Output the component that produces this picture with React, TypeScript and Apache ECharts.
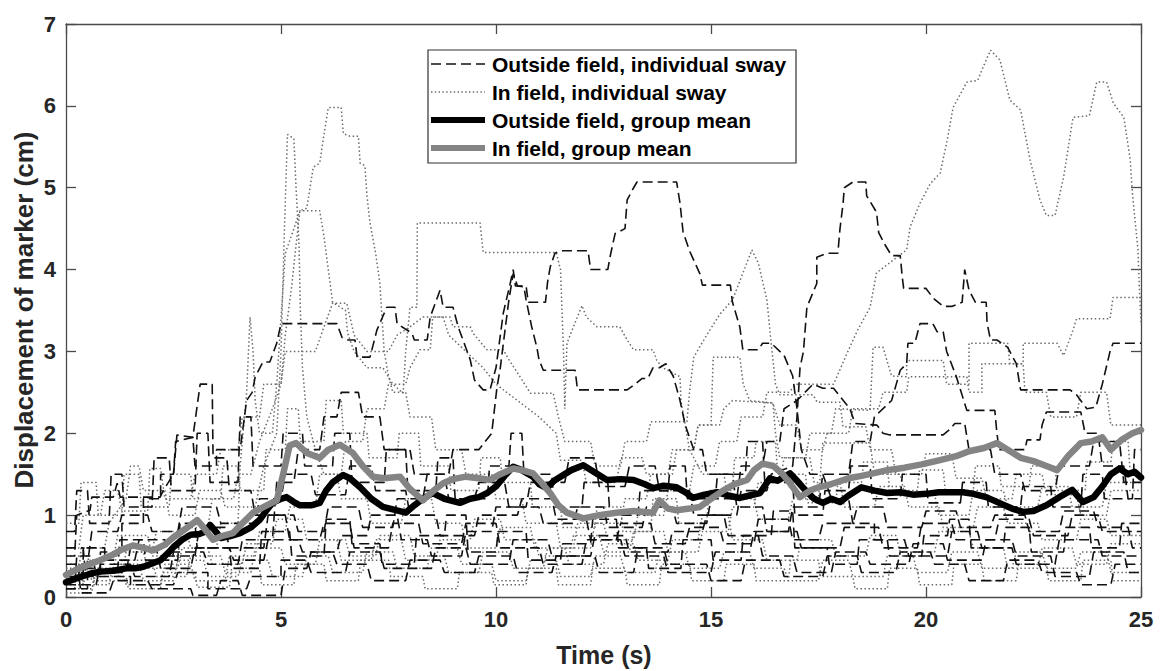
import React, { useEffect, useRef } from "react";
import * as echarts from "echarts";

type P = [number, number];

// Axis settings
const X_MIN = 0, X_MAX = 25, X_STEP = 5;
const Y_MIN = 0, Y_MAX = 7, Y_STEP = 1;
const X_TITLE = "Time (s)";
const Y_TITLE = "Displacement of marker (cm)";
const LEGEND_LABELS = [
  "Outside field, individual sway",
  "In field, individual sway",
  "Outside field, group mean",
  "In field, group mean",
];

// Group means
const OUT_MEAN: P[] = [[0,0.18],[0.3,0.24],[0.6,0.29],[0.8,0.31],[1.1,0.32],[1.4,0.35],[1.6,0.35],[1.8,0.37],[2.0,0.41],[2.2,0.45],[2.4,0.55],[2.5,0.61],[2.7,0.7],[2.9,0.76],[3.1,0.77],[3.25,0.8],[3.35,0.88],[3.45,0.82],[3.6,0.72],[3.8,0.74],[4.05,0.78],[4.3,0.85],[4.5,0.94],[4.65,1.05],[4.8,1.15],[5.0,1.2],[5.13,1.22],[5.3,1.16],[5.44,1.12],[5.7,1.12],[5.9,1.15],[6.05,1.3],[6.2,1.4],[6.44,1.49],[6.6,1.45],[6.84,1.34],[7.1,1.2],[7.37,1.1],[7.6,1.07],[7.9,1.03],[8.1,1.12],[8.3,1.2],[8.53,1.27],[8.8,1.2],[9.16,1.15],[9.4,1.2],[9.6,1.22],[9.79,1.27],[10.0,1.35],[10.2,1.48],[10.4,1.59],[10.6,1.55],[10.86,1.47],[11.0,1.38],[11.18,1.33],[11.35,1.42],[11.5,1.47],[11.75,1.55],[12.03,1.61],[12.3,1.52],[12.58,1.43],[12.9,1.44],[13.2,1.43],[13.45,1.38],[13.66,1.33],[13.9,1.36],[14.2,1.34],[14.4,1.28],[14.58,1.21],[14.85,1.25],[15.14,1.28],[15.4,1.24],[15.67,1.21],[15.9,1.24],[16.14,1.27],[16.37,1.45],[16.55,1.42],[16.84,1.51],[17.0,1.42],[17.2,1.3],[17.4,1.2],[17.6,1.15],[17.8,1.2],[18.0,1.16],[18.2,1.24],[18.5,1.34],[18.8,1.3],[19.1,1.27],[19.4,1.28],[19.7,1.25],[20.0,1.26],[20.3,1.28],[20.6,1.28],[20.86,1.28],[21.1,1.26],[21.4,1.22],[21.7,1.15],[22.0,1.08],[22.26,1.04],[22.5,1.05],[22.8,1.12],[23.1,1.22],[23.4,1.31],[23.65,1.16],[23.9,1.22],[24.1,1.35],[24.3,1.5],[24.5,1.57],[24.7,1.5],[24.85,1.53],[25,1.46]];
const IN_MEAN: P[] = [[0,0.27],[0.3,0.35],[0.79,0.45],[1.1,0.52],[1.3,0.58],[1.56,0.63],[1.8,0.6],[2.03,0.57],[2.3,0.64],[2.5,0.73],[2.8,0.84],[3.05,0.94],[3.2,0.85],[3.42,0.7],[3.6,0.74],[3.88,0.78],[4.1,0.9],[4.35,1.03],[4.6,1.1],[4.9,1.18],[5.05,1.5],[5.2,1.85],[5.35,1.88],[5.6,1.76],[5.9,1.7],[6.1,1.8],[6.37,1.86],[6.67,1.76],[6.9,1.6],[7.14,1.47],[7.4,1.45],[7.77,1.47],[8.0,1.32],[8.3,1.18],[8.55,1.3],[8.77,1.39],[9.0,1.44],[9.3,1.47],[9.6,1.45],[9.86,1.43],[10.1,1.5],[10.4,1.57],[10.6,1.55],[10.86,1.51],[11.05,1.4],[11.26,1.27],[11.45,1.12],[11.65,1.03],[12.03,0.96],[12.4,1.0],[12.8,1.03],[13.2,1.05],[13.65,1.03],[13.8,1.18],[14.0,1.08],[14.2,1.06],[14.5,1.08],[14.74,1.1],[15.0,1.2],[15.28,1.3],[15.55,1.38],[15.84,1.43],[16.0,1.55],[16.2,1.63],[16.45,1.6],[16.67,1.5],[16.85,1.38],[17.07,1.22],[17.3,1.3],[17.5,1.34],[17.8,1.38],[18.2,1.45],[18.5,1.48],[18.77,1.51],[19.1,1.55],[19.5,1.58],[19.9,1.62],[20.3,1.67],[20.7,1.72],[21.0,1.78],[21.35,1.82],[21.65,1.88],[21.9,1.8],[22.2,1.7],[22.5,1.66],[22.8,1.6],[23.05,1.55],[23.3,1.72],[23.6,1.88],[23.85,1.9],[24.1,1.95],[24.3,1.8],[24.55,1.92],[24.8,2.0],[25,2.04]];

// Outside field, individual subjects (dashed)
const OUT_A: P[] = [[0,0.2],[0.3,0.2],[0.3,0.35],[0.8,0.35],[0.8,0.55],[1.3,0.55],[1.3,0.9],[1.8,0.9],[1.8,1.2],[2.2,1.2],[2.2,1.5],[2.5,1.5],[2.55,1.9],[2.95,1.95],[3.0,1.6],[3.5,1.6],[3.5,1.8],[4.05,1.8],[4.2,2.4],[4.33,2.5],[4.4,2.69],[4.58,2.87],[4.74,2.87],[4.9,3.1],[5.0,3.34],[6.3,3.34],[6.42,3.17],[6.56,3.14],[6.72,3.14],[6.77,2.93],[7.07,2.93],[7.23,3.26],[7.46,3.54],[7.65,3.54],[7.7,3.34],[8.05,3.22],[8.1,3.14],[8.4,3.14],[8.47,3.42],[8.7,3.75],[8.77,3.54],[9.0,3.54],[9.12,3.3],[9.4,2.9],[9.5,2.65],[9.7,2.53],[9.86,2.53],[10.0,2.8],[10.17,3.47],[10.33,3.83],[10.4,4.0],[10.45,3.8],[10.7,3.8],[10.75,3.6],[11.15,3.6],[11.2,3.85],[11.26,4.03],[11.37,4.2],[11.5,4.23],[12.14,4.23],[12.2,4.0],[12.6,4.0],[12.65,4.15],[12.77,4.44],[13.0,4.5],[13.05,4.85],[13.2,5.0],[13.28,5.07],[14.2,5.07],[14.28,4.81],[14.35,4.46],[14.5,4.23],[14.74,3.95],[14.8,3.81],[15.45,3.81],[15.5,3.6],[15.67,3.3],[15.74,3.02],[16.1,3.02],[16.2,3.1],[16.4,3.1],[16.7,2.95],[16.9,2.7],[17.0,2.3],[17.1,1.8],[17.3,1.5],[17.6,1.5],[17.8,1.2],[18.2,1.2],[18.3,0.9],[18.8,0.9],[18.8,0.7],[19.5,0.7],[19.6,0.5],[20.5,0.5],[20.6,0.8],[21.2,0.8],[21.3,0.6],[22,0.6],[22.1,0.4],[23,0.4],[23.1,0.7],[24,0.7],[24.1,0.5],[25,0.5]];
const OUT_B: P[] = [[0,0.1],[0.5,0.1],[0.5,0.25],[1.5,0.25],[1.5,0.15],[2.5,0.15],[2.6,0.3],[3.3,0.3],[3.3,0.1],[4.2,0.1],[4.3,0.25],[5.0,0.25],[5.0,0.45],[5.6,0.45],[5.7,0.3],[6.5,0.3],[6.6,0.55],[7.3,0.55],[7.4,0.35],[8.5,0.35],[8.6,0.6],[9.3,0.6],[9.4,0.4],[10.3,0.4],[10.4,0.7],[11.2,0.7],[11.3,0.5],[12.2,0.5],[12.3,0.75],[13.0,0.75],[13.1,0.55],[14.0,0.55],[14.1,0.8],[14.8,0.8],[14.9,1.0],[15.6,1.0],[15.7,1.3],[16.3,1.3],[16.4,1.5],[16.9,1.6],[17.0,2.2],[17.07,2.8],[17.15,3.0],[17.23,3.54],[17.46,3.83],[17.46,4.15],[17.7,4.2],[17.95,4.2],[18.0,4.5],[18.07,4.8],[18.1,5.0],[18.3,5.07],[18.6,5.07],[18.62,4.9],[18.85,4.7],[18.9,4.45],[19.05,4.3],[19.2,4.17],[19.4,4.17],[19.45,3.9],[19.48,3.77],[20.0,3.77],[20.17,3.65],[20.4,3.55],[20.6,3.55],[20.84,3.6],[20.9,4.0],[21.0,3.75],[21.15,3.6],[21.4,3.6],[21.42,3.35],[21.5,3.14],[21.65,3.14],[21.9,3.05],[22.1,2.85],[22.2,2.53],[23.35,2.53],[23.5,2.47],[23.74,2.3],[23.95,2.32],[24.1,2.6],[24.28,3.0],[24.35,3.1],[25,3.1]];
const OUT_C: P[] = [[0,0.3],[0.4,0.3],[0.4,0.6],[0.9,0.6],[0.9,0.45],[1.6,0.45],[1.7,0.7],[2.3,0.7],[2.4,0.5],[3.0,0.5],[3.1,0.85],[3.7,0.85],[3.8,0.6],[4.6,0.6],[4.7,1.0],[5.3,1.0],[5.4,0.8],[6.0,0.8],[6.1,1.1],[6.8,1.1],[6.9,0.85],[7.6,0.85],[7.7,1.2],[8.3,1.2],[8.4,1.5],[8.9,1.5],[9.0,1.8],[9.6,1.8],[9.9,2.0],[10.02,2.55],[10.1,2.8],[10.2,3.22],[10.3,3.63],[10.4,3.95],[10.5,3.8],[10.65,3.79],[10.7,3.63],[10.83,3.3],[10.95,3.05],[11.0,2.9],[11.1,2.77],[11.84,2.77],[11.88,2.6],[11.9,2.53],[13.05,2.53],[13.23,2.6],[13.4,2.67],[13.53,2.67],[13.65,2.8],[13.8,2.8],[13.95,2.85],[14.12,2.7],[14.28,2.4],[14.4,2.1],[14.6,1.8],[14.8,1.8],[14.9,1.5],[15.5,1.5],[15.6,1.1],[16.2,1.1],[16.3,0.8],[17.0,0.8],[17.1,0.6],[18.0,0.6],[18.1,0.85],[18.9,0.85],[19.0,0.6],[19.8,0.6],[19.9,0.9],[20.6,0.9],[20.7,0.7],[21.6,0.7],[21.7,0.95],[22.4,0.95],[22.5,0.75],[23.3,0.75],[23.4,1.0],[24.0,1.0],[24.1,0.8],[25,0.8]];
const OUT_D: P[] = [[0,0.5],[0.2,0.5],[0.25,1.0],[0.56,1.06],[0.6,1.22],[1.1,1.22],[1.19,1.39],[1.26,1.22],[2.19,1.22],[2.26,1.3],[2.5,1.5],[2.58,1.98],[2.95,1.95],[3.12,2.6],[3.4,2.6],[3.42,1.7],[3.74,1.7],[3.8,1.3],[4.3,1.3],[4.4,1.0],[5.1,1.0],[5.2,0.7],[5.9,0.7],[6.0,0.9],[6.6,0.9],[6.7,0.6],[7.5,0.6],[7.6,0.9],[8.2,0.9],[8.3,0.65],[9.2,0.65],[9.3,0.9],[10.0,0.9],[10.1,0.6],[11.0,0.6],[11.1,0.4],[12.0,0.4],[12.1,0.7],[12.9,0.7],[13.0,0.5],[13.9,0.5],[14.0,0.3],[15.0,0.3],[15.1,0.55],[15.9,0.55],[16.0,0.8],[16.8,0.8],[16.9,1.1],[17.5,1.1],[17.6,1.5],[18.2,1.5],[18.3,1.9],[18.7,1.9],[18.8,2.2],[19.2,2.4],[19.4,2.77],[19.55,2.85],[19.58,3.1],[19.74,3.1],[19.86,3.34],[20.16,3.34],[20.26,3.24],[20.4,3.24],[20.48,3.0],[20.7,2.7],[20.95,2.28],[21.6,2.28],[21.65,2.0],[21.7,1.8],[22.3,1.8],[22.35,1.92],[22.65,1.92],[22.7,2.1],[22.8,2.26],[23.6,2.26],[23.7,2.0],[24.0,2.0],[24.1,1.6],[24.6,1.6],[24.7,1.2],[25,1.2]];
const OUT_E: P[] = [[0,0.15],[0.7,0.15],[0.8,0.4],[1.5,0.4],[1.6,0.25],[2.4,0.25],[2.5,0.55],[3.2,0.55],[3.3,0.4],[4.0,0.4],[4.1,0.7],[4.8,0.7],[4.9,1.4],[5.3,1.4],[5.4,1.8],[5.9,1.8],[6.0,2.2],[6.3,2.2],[6.4,2.5],[6.8,2.5],[6.9,2.2],[7.3,2.2],[7.4,1.8],[8.0,1.8],[8.1,1.5],[8.8,1.5],[8.9,1.2],[9.5,1.2],[9.6,1.4],[10.2,1.4],[10.3,1.1],[11.0,1.1],[11.1,0.9],[11.8,0.9],[11.9,1.1],[12.5,1.1],[12.6,0.85],[13.4,0.85],[13.5,1.1],[14.1,1.1],[14.2,0.9],[14.9,0.9],[15.0,1.2],[15.6,1.2],[15.7,1.6],[16.2,1.6],[16.3,1.9],[16.6,1.9],[16.7,2.3],[17.0,2.4],[17.37,2.6],[17.6,2.55],[17.85,2.55],[18.0,2.45],[18.23,2.3],[18.35,2.12],[18.86,2.1],[19.0,2.0],[19.16,1.98],[20.4,1.98],[20.56,2.05],[20.67,2.12],[20.9,2.12],[21.0,1.8],[21.5,1.8],[21.6,1.5],[22.2,1.5],[22.3,1.3],[23.0,1.3],[23.1,1.6],[23.8,1.6],[23.9,1.9],[24.5,1.9],[24.6,1.4],[25,1.4]];
const OUT_F: P[] = [[0,0.25],[0.3,0.25],[0.35,0.05],[1.0,0.05],[1.1,0.2],[1.9,0.2],[2.0,0.1],[2.9,0.1],[2.95,0.02],[3.5,0.02],[3.6,0.2],[4.0,0.2],[4.1,0.02],[5.0,0.02],[5.1,0.35],[5.6,0.35],[5.7,0.55],[6.2,0.55],[6.3,0.4],[7.0,0.4],[7.1,0.2],[7.9,0.2],[8.0,0.45],[8.7,0.45],[8.8,0.3],[9.5,0.3],[9.6,0.5],[10.4,0.5],[10.5,0.3],[11.3,0.3],[11.4,0.5],[12.3,0.5],[12.4,0.3],[13.2,0.3],[13.3,0.6],[13.9,0.6],[14.0,0.4],[14.9,0.4],[15.0,0.2],[15.7,0.2],[15.8,0.45],[16.6,0.45],[16.7,0.25],[17.6,0.25],[17.7,0.5],[18.4,0.5],[18.5,0.3],[19.3,0.3],[19.4,0.55],[20.1,0.55],[20.2,0.4],[20.9,0.4],[21.0,0.2],[21.8,0.2],[21.9,0.45],[22.6,0.45],[22.7,0.3],[23.5,0.3],[23.6,0.15],[24.3,0.15],[24.4,0.4],[25,0.4]];
const OUT_G: P[] = [[0,0.4],[0.5,0.4],[0.6,0.8],[1.2,0.8],[1.3,1.0],[1.9,1.0],[2.0,0.8],[2.6,0.8],[2.7,1.1],[3.5,1.1],[3.6,0.9],[4.4,0.9],[4.5,1.2],[5.0,1.2],[5.1,1.5],[5.7,1.5],[5.8,1.25],[6.5,1.25],[6.6,1.6],[7.1,1.6],[7.2,1.3],[7.9,1.3],[8.0,1.0],[8.6,1.0],[8.7,0.75],[9.5,0.75],[9.6,1.0],[10.5,1.0],[10.6,1.2],[11.3,1.2],[11.4,0.95],[12.1,0.95],[12.2,0.7],[12.8,0.7],[12.9,0.9],[13.6,0.9],[13.7,0.65],[14.4,0.65],[14.5,0.85],[15.2,0.85],[15.3,0.65],[16.0,0.65],[16.1,0.95],[16.8,0.95],[16.9,0.7],[17.5,0.7],[17.6,0.9],[18.3,0.9],[18.4,1.1],[19.0,1.1],[19.1,0.85],[19.9,0.85],[20.0,1.05],[20.7,1.05],[20.8,0.85],[21.5,0.85],[21.6,1.0],[22.3,1.0],[22.4,0.8],[23.1,0.8],[23.2,1.05],[23.9,1.05],[24.0,0.85],[24.7,0.85],[24.8,0.6],[25,0.6]];
const OUT_H: P[] = [[0,0.1],[0.2,0.1],[0.25,0.5],[0.6,0.5],[0.7,0.3],[1.4,0.3],[1.5,0.6],[2.1,0.6],[2.2,0.35],[2.9,0.35],[3.0,0.6],[3.8,0.6],[3.9,0.45],[4.6,0.45],[4.7,0.7],[5.4,0.7],[5.5,0.55],[6.3,0.55],[6.4,0.75],[7.0,0.75],[7.1,1.0],[7.7,1.0],[7.8,0.7],[8.4,0.7],[8.5,0.5],[9.2,0.5],[9.3,0.8],[9.9,0.8],[10.0,1.1],[10.7,1.1],[10.8,1.4],[11.6,1.4],[11.7,1.7],[12.3,1.7],[12.4,1.35],[13.0,1.35],[13.1,1.6],[13.7,1.6],[13.8,1.3],[14.5,1.3],[14.6,1.0],[15.3,1.0],[15.4,0.75],[16.1,0.75],[16.2,0.5],[16.9,0.5],[17.0,0.3],[17.8,0.3],[17.9,0.55],[18.6,0.55],[18.7,0.4],[19.6,0.4],[19.7,0.65],[20.4,0.65],[20.5,0.45],[21.3,0.45],[21.4,0.7],[22.0,0.7],[22.1,0.5],[22.9,0.5],[23.0,0.25],[23.8,0.25],[23.9,0.55],[24.6,0.55],[24.7,0.3],[25,0.3]];
const OUT_I: P[] = [[0,0.8],[0.2,0.8],[0.25,1.3],[0.5,1.3],[0.55,0.9],[1.0,0.9],[1.05,1.5],[1.3,1.5],[1.35,1.1],[2.0,1.1],[2.05,1.7],[2.4,1.7],[2.45,1.3],[3.0,1.3],[3.05,2.0],[3.3,2.0],[3.35,1.4],[4.0,1.4],[4.05,2.2],[4.3,2.2],[4.35,1.6],[5.0,1.6],[5.05,2.0],[5.5,2.0],[5.55,1.6],[6.2,1.6],[6.25,2.0],[6.6,2.0],[6.65,1.4],[7.4,1.4],[7.45,1.8],[7.9,1.8],[7.95,1.3],[8.6,1.3],[8.65,1.7],[9.0,1.7],[9.05,1.2],[9.8,1.2],[9.85,1.6],[10.3,1.6],[10.35,2.0],[10.6,2.0],[10.65,1.5],[11.3,1.5],[11.35,1.1],[12.0,1.1],[12.05,1.4],[12.6,1.4],[12.65,1.0],[13.3,1.0],[13.35,1.3],[14.0,1.3],[14.05,1.6],[14.4,1.6],[14.45,1.2],[15.1,1.2],[15.15,1.5],[15.8,1.5],[15.85,1.9],[16.2,1.9],[16.25,1.4],[16.9,1.4],[16.95,1.0],[17.6,1.0],[17.65,1.3],[18.2,1.3],[18.25,1.6],[18.7,1.6],[18.75,1.2],[19.4,1.2],[19.45,1.5],[20.0,1.5],[20.05,1.15],[20.8,1.15],[20.85,1.4],[21.4,1.4],[21.45,1.1],[22.2,1.1],[22.25,1.35],[22.9,1.35],[22.95,1.1],[23.6,1.1],[23.65,1.5],[24.1,1.5],[24.15,1.2],[24.8,1.2],[24.85,1.8],[25,1.8]];
const OUT_J: P[] = [[0,0.6],[0.4,0.6],[0.45,0.3],[1.2,0.3],[1.25,0.7],[1.8,0.7],[1.85,0.45],[2.6,0.45],[2.65,0.9],[3.0,0.9],[3.05,0.6],[3.8,0.6],[3.85,0.35],[4.5,0.35],[4.55,0.8],[5.2,0.8],[5.25,0.5],[6.0,0.5],[6.05,0.95],[6.6,0.95],[6.65,0.65],[7.3,0.65],[7.35,0.4],[8.1,0.4],[8.15,0.75],[8.8,0.75],[8.85,1.0],[9.3,1.0],[9.35,0.55],[10.0,0.55],[10.05,0.8],[10.7,0.8],[10.75,0.45],[11.5,0.45],[11.55,0.65],[12.2,0.65],[12.25,0.95],[12.8,0.95],[12.85,0.6],[13.5,0.6],[13.55,0.35],[14.3,0.35],[14.35,0.7],[15.0,0.7],[15.05,0.45],[15.7,0.45],[15.75,0.75],[16.4,0.75],[16.45,1.05],[16.9,1.05],[16.95,0.6],[17.7,0.6],[17.75,0.4],[18.4,0.4],[18.45,0.7],[19.1,0.7],[19.15,0.5],[19.9,0.5],[19.95,0.75],[20.5,0.75],[20.55,0.95],[21.0,0.95],[21.05,0.6],[21.8,0.6],[21.85,0.85],[22.4,0.85],[22.45,0.55],[23.2,0.55],[23.25,0.85],[23.8,0.85],[23.85,0.6],[24.5,0.6],[24.55,0.9],[25,0.9]];

// In field, individual subjects (dotted)
const IN_A: P[] = [[0,0.3],[0.3,0.3],[0.35,0.6],[0.9,0.6],[1.0,0.9],[1.4,1.2],[1.5,1.6],[1.7,1.6],[1.8,1.3],[2.3,1.3],[2.4,1.0],[3.0,1.0],[3.1,1.3],[3.6,1.3],[3.7,1.1],[4.4,1.1],[4.6,1.6],[4.9,2.0],[5.0,3.0],[5.08,4.5],[5.15,5.65],[5.3,5.6],[5.35,5.0],[5.42,4.3],[5.45,3.5],[5.5,2.8],[5.6,2.2],[5.8,1.8],[6.0,1.5],[6.3,1.5],[6.4,1.2],[7.0,1.2],[7.1,0.9],[7.8,0.9],[7.9,1.2],[8.5,1.2],[8.6,0.9],[9.2,0.9],[9.3,0.6],[10.0,0.6],[10.1,0.85],[10.8,0.85],[10.9,0.6],[11.6,0.6],[11.7,0.4],[12.5,0.4],[12.6,0.65],[13.2,0.65],[13.3,0.45],[14.0,0.45],[14.1,0.7],[14.7,0.7],[14.8,1.0],[15.4,1.0],[15.5,0.7],[16.2,0.7],[16.3,0.45],[17.0,0.45],[17.1,0.7],[17.8,0.7],[17.9,0.5],[18.6,0.5],[18.7,0.75],[19.3,0.75],[19.4,0.55],[20.2,0.55],[20.3,0.8],[21.0,0.8],[21.1,0.6],[21.8,0.6],[21.9,0.35],[22.6,0.35],[22.7,0.6],[23.4,0.6],[23.5,0.4],[24.2,0.4],[24.3,0.65],[25,0.65]];
const IN_B: P[] = [[0,0.2],[0.4,0.2],[0.5,0.45],[1.1,0.45],[1.2,0.75],[1.9,0.75],[2.0,0.5],[2.6,0.5],[2.7,0.85],[3.3,0.85],[3.4,1.2],[3.9,1.2],[4.0,1.5],[4.3,1.5],[4.5,1.9],[4.8,2.3],[5.0,2.6],[5.1,3.2],[5.25,3.8],[5.35,4.3],[5.44,4.72],[5.6,4.75],[5.75,5.25],[5.9,5.3],[6.0,5.65],[6.1,5.98],[6.4,5.98],[6.45,5.66],[6.6,5.63],[6.8,5.63],[6.84,5.3],[6.95,5.27],[7.0,4.9],[7.07,4.57],[7.2,4.2],[7.3,3.83],[7.35,3.4],[7.4,3.0],[7.5,2.7],[7.6,2.5],[7.9,2.5],[8.0,2.2],[8.5,2.2],[8.6,1.8],[9.2,1.8],[9.3,1.5],[9.9,1.5],[10.0,1.2],[10.6,1.2],[10.7,0.9],[11.4,0.9],[11.5,0.6],[12.2,0.6],[12.3,0.9],[12.9,0.9],[13.0,1.2],[13.5,1.2],[13.6,1.5],[14.1,1.5],[14.2,1.8],[14.6,1.8],[14.7,2.1],[15.0,2.1],[15.05,2.93],[15.67,2.93],[15.75,2.6],[15.9,2.4],[16.44,2.37],[16.5,2.0],[16.6,1.7],[17.3,1.7],[17.4,1.4],[18.0,1.4],[18.1,1.1],[18.8,1.1],[18.9,1.35],[19.5,1.35],[19.6,1.1],[20.3,1.1],[20.4,0.85],[21.1,0.85],[21.2,1.1],[21.8,1.1],[21.9,0.9],[22.6,0.9],[22.7,0.7],[23.5,0.7],[23.6,0.95],[24.2,0.95],[24.3,0.75],[25,0.75]];
const IN_C: P[] = [[0,0.5],[0.5,0.5],[0.6,0.3],[1.3,0.3],[1.4,0.55],[2.0,0.55],[2.1,0.8],[2.8,0.8],[2.9,0.6],[3.5,0.6],[3.6,0.9],[4.0,0.9],[4.05,1.6],[4.2,2.49],[4.28,3.42],[4.35,3.0],[4.4,2.4],[4.5,2.0],[4.8,2.0],[4.9,2.6],[5.0,3.4],[5.1,4.2],[5.3,4.5],[5.44,4.72],[5.9,4.72],[6.0,4.4],[6.2,3.6],[6.5,3.5],[6.55,3.22],[6.7,3.0],[7.0,2.8],[7.37,2.8],[7.6,2.6],[7.84,2.49],[7.9,3.0],[8.0,3.54],[8.16,3.54],[8.17,4.57],[9.63,4.57],[9.7,4.21],[11.4,4.21],[11.5,4.0],[11.57,3.0],[11.6,2.3],[11.65,3.1],[11.8,3.3],[12.0,3.56],[12.1,3.42],[12.35,3.3],[12.88,3.3],[13.05,3.14],[13.2,3.02],[13.65,3.02],[13.74,2.89],[13.88,2.8],[14.0,2.77],[14.28,2.69],[14.3,2.4],[14.4,2.1],[14.5,1.8],[14.8,1.5],[15.3,1.5],[15.4,1.2],[16.0,1.2],[16.1,0.95],[16.8,0.95],[16.9,1.2],[17.5,1.2],[17.6,1.88],[18.7,1.88],[18.8,1.5],[19.4,1.5],[19.5,1.25],[20.2,1.25],[20.3,1.0],[21.0,1.0],[21.1,1.3],[21.8,1.3],[21.9,1.1],[22.6,1.1],[22.7,1.35],[23.3,1.35],[23.4,1.1],[24.1,1.1],[24.2,1.4],[25,1.4]];
const IN_D: P[] = [[0,0.1],[0.6,0.1],[0.7,0.3],[1.3,0.3],[1.4,0.15],[2.2,0.15],[2.3,0.4],[2.9,0.4],[3.0,0.2],[3.7,0.2],[3.8,0.5],[4.4,0.5],[4.5,0.8],[5.1,0.8],[5.2,1.1],[5.8,1.1],[5.9,1.5],[6.4,1.5],[6.5,1.9],[6.9,1.9],[7.0,2.3],[7.4,2.3],[7.5,2.6],[7.9,2.6],[8.0,2.8],[8.23,3.02],[8.47,3.02],[8.53,3.42],[8.93,3.42],[9.0,3.3],[9.4,3.3],[9.47,3.22],[9.79,3.02],[10.17,3.02],[10.3,2.9],[10.56,2.69],[10.8,2.49],[11.33,2.49],[11.45,2.2],[11.6,1.9],[12.2,1.9],[12.3,1.6],[12.9,1.6],[13.0,1.9],[13.5,1.9],[13.6,2.14],[14.44,2.14],[14.5,2.5],[14.6,2.93],[14.9,3.2],[15.2,3.45],[15.5,3.63],[15.7,3.9],[15.95,4.24],[16.1,4.08],[16.3,3.63],[16.4,3.1],[16.5,2.6],[16.6,2.47],[17.37,2.47],[17.47,2.38],[18.0,2.38],[18.07,2.08],[18.6,2.08],[18.7,1.8],[19.2,1.8],[19.3,1.5],[19.9,1.5],[20.0,1.75],[20.6,1.75],[20.7,1.45],[21.3,1.45],[21.4,1.2],[22.0,1.2],[22.1,1.5],[22.7,1.5],[22.8,1.25],[23.5,1.25],[23.6,1.0],[24.2,1.0],[24.3,1.3],[25,1.3]];
const IN_E: P[] = [[0,0.4],[0.5,0.4],[0.6,0.2],[1.2,0.2],[1.3,0.45],[2.0,0.45],[2.1,0.25],[2.8,0.25],[2.9,0.5],[3.6,0.5],[3.7,0.3],[4.3,0.3],[4.4,0.6],[5.0,0.6],[5.1,0.4],[5.8,0.4],[5.9,0.7],[6.5,0.7],[6.6,0.5],[7.2,0.5],[7.3,0.75],[8.0,0.75],[8.1,0.5],[8.8,0.5],[8.9,0.3],[9.6,0.3],[9.7,0.55],[10.3,0.55],[10.4,0.35],[11.1,0.35],[11.2,0.6],[11.8,0.6],[11.9,0.9],[12.5,0.9],[12.6,0.7],[13.2,0.7],[13.3,1.0],[13.9,1.0],[14.0,1.3],[14.5,1.3],[14.6,1.6],[15.1,1.6],[15.2,1.9],[15.6,1.9],[15.7,2.2],[16.2,2.2],[16.3,2.5],[16.8,2.5],[17.0,2.6],[17.85,2.6],[18.2,3.02],[18.4,3.25],[18.7,3.54],[18.85,3.96],[19.2,4.1],[19.55,4.24],[19.63,4.52],[19.86,4.81],[20.1,5.05],[20.33,5.18],[20.5,5.6],[20.63,5.98],[20.95,6.29],[21.2,6.31],[21.35,6.5],[21.5,6.68],[21.72,6.56],[21.95,6.07],[22.2,5.95],[22.42,5.34],[22.65,4.85],[22.8,4.66],[23.0,4.66],[23.2,5.13],[23.42,5.86],[23.8,5.88],[23.97,6.29],[24.2,6.29],[24.36,6.03],[24.6,5.86],[24.75,5.34],[24.8,4.93],[24.93,4.24],[24.96,3.8],[25,3.35]];
const IN_F: P[] = [[0,0.15],[0.4,0.15],[0.5,0.35],[1.1,0.35],[1.2,0.55],[1.8,0.55],[1.9,0.35],[2.6,0.35],[2.7,0.6],[3.3,0.6],[3.4,0.4],[4.1,0.4],[4.2,0.65],[4.8,0.65],[4.9,0.95],[5.5,0.95],[5.6,0.7],[6.3,0.7],[6.4,0.45],[7.1,0.45],[7.2,0.7],[7.8,0.7],[7.9,0.45],[8.6,0.45],[8.7,0.7],[9.4,0.7],[9.5,0.95],[10.1,0.95],[10.2,0.7],[10.9,0.7],[11.0,0.5],[11.7,0.5],[11.8,0.75],[12.4,0.75],[12.5,0.55],[13.1,0.55],[13.2,0.8],[13.9,0.8],[14.0,0.55],[14.7,0.55],[14.8,0.8],[15.4,0.8],[15.5,1.1],[16.0,1.1],[16.1,1.4],[16.6,1.4],[16.7,1.7],[17.2,1.7],[17.3,2.0],[17.8,2.0],[17.9,2.3],[18.7,2.28],[18.77,3.05],[19.0,3.05],[19.2,2.7],[19.55,2.69],[19.55,2.89],[20.4,2.89],[20.48,2.6],[21.0,2.6],[21.0,3.1],[21.9,3.1],[21.95,2.85],[22.26,2.85],[22.26,3.1],[23.05,3.1],[23.2,2.95],[23.42,3.26],[23.5,3.4],[24.28,3.4],[24.35,3.66],[25,3.66]];
const IN_G: P[] = [[0,0.6],[0.3,0.6],[0.4,1.0],[0.8,1.0],[0.9,1.3],[1.2,1.3],[1.3,1.05],[1.9,1.05],[1.95,1.57],[2.2,1.57],[2.3,1.2],[2.9,1.2],[3.0,1.5],[3.5,1.5],[3.6,1.8],[4.0,1.8],[4.1,2.2],[4.5,2.2],[4.6,2.6],[5.0,2.6],[5.1,3.0],[5.8,3.0],[6.0,3.3],[6.2,3.59],[6.53,3.59],[6.7,3.2],[7.0,3.0],[7.5,3.0],[7.7,3.2],[8.0,3.3],[8.3,3.42],[8.77,3.42],[8.9,3.2],[9.3,3.0],[9.7,2.8],[10.0,2.6],[10.5,2.4],[11.0,2.2],[11.4,2.0],[11.5,1.67],[12.0,1.67],[12.1,1.4],[12.8,1.4],[12.9,1.7],[13.4,1.7],[13.5,1.5],[14.0,1.5],[14.1,1.8],[14.6,1.8],[14.7,2.1],[15.2,2.1],[15.3,2.3],[15.5,2.4],[16.44,2.37],[16.6,2.1],[17.0,2.1],[17.1,1.8],[17.6,1.8],[17.7,2.0],[18.2,2.0],[18.3,2.3],[18.9,2.3],[19.0,2.5],[19.55,2.5],[19.6,2.69],[20.95,2.69],[21.0,2.5],[21.3,2.5],[21.3,2.85],[22.26,2.85],[22.3,2.5],[22.8,2.5],[22.9,2.2],[23.5,2.2],[23.6,2.5],[24.2,2.5],[24.3,2.1],[25,2.1]];
const IN_H: P[] = [[0,0.35],[0.3,0.35],[0.4,0.15],[1.0,0.15],[1.1,0.4],[1.7,0.4],[1.8,0.2],[2.5,0.2],[2.6,0.45],[3.2,0.45],[3.3,0.25],[4.0,0.25],[4.1,0.45],[4.7,0.45],[4.8,0.25],[5.5,0.25],[5.6,0.5],[6.1,0.5],[6.2,0.3],[6.9,0.3],[7.0,0.55],[7.6,0.55],[7.7,0.35],[8.4,0.35],[8.5,0.6],[9.1,0.6],[9.2,0.4],[9.9,0.4],[10.0,0.2],[10.7,0.2],[10.8,0.45],[11.4,0.45],[11.5,0.25],[12.2,0.25],[12.3,0.5],[12.9,0.5],[13.0,0.3],[13.7,0.3],[13.8,0.55],[14.4,0.55],[14.5,0.35],[15.2,0.35],[15.3,0.55],[15.9,0.55],[16.0,0.35],[16.7,0.35],[16.8,0.2],[17.5,0.2],[17.6,0.45],[18.2,0.45],[18.3,0.25],[19.0,0.25],[19.1,0.5],[19.7,0.5],[19.8,0.3],[20.5,0.3],[20.6,0.55],[21.2,0.55],[21.3,0.35],[22.0,0.35],[22.1,0.55],[22.7,0.55],[22.8,0.35],[23.5,0.35],[23.6,0.55],[24.2,0.55],[24.3,0.3],[25,0.3]];
const IN_I: P[] = [[0,0.9],[0.3,0.9],[0.35,1.4],[0.7,1.4],[0.75,1.0],[1.3,1.0],[1.35,1.5],[1.7,1.5],[1.75,1.1],[2.4,1.1],[2.45,1.5],[2.9,1.5],[2.95,1.2],[3.6,1.2],[3.65,1.6],[4.0,1.6],[4.05,1.3],[4.6,1.3],[4.65,1.8],[5.1,1.8],[5.15,2.3],[5.4,2.3],[5.45,1.9],[6.0,1.9],[6.05,2.4],[6.4,2.4],[6.45,2.0],[7.0,2.0],[7.05,1.7],[7.7,1.7],[7.75,2.0],[8.2,2.0],[8.25,1.6],[8.9,1.6],[8.95,1.3],[9.6,1.3],[9.65,1.7],[10.1,1.7],[10.15,1.4],[10.8,1.4],[10.85,1.1],[11.5,1.1],[11.55,0.85],[12.3,0.85],[12.35,1.1],[12.9,1.1],[12.95,0.8],[13.6,0.8],[13.65,1.2],[14.2,1.2],[14.25,0.9],[14.9,0.9],[14.95,1.3],[15.5,1.3],[15.55,1.7],[16.0,1.7],[16.05,1.9],[16.5,1.9],[16.55,1.5],[17.2,1.5],[17.25,1.15],[17.9,1.15],[17.95,1.4],[18.5,1.4],[18.55,1.65],[19.1,1.65],[19.15,1.3],[19.8,1.3],[19.85,1.55],[20.4,1.55],[20.45,1.3],[21.1,1.3],[21.15,1.6],[21.7,1.6],[21.75,1.35],[22.4,1.35],[22.45,1.6],[23.0,1.6],[23.05,1.3],[23.7,1.3],[23.75,1.65],[24.3,1.65],[24.35,1.9],[24.7,1.9],[24.75,1.5],[25,1.5]];
const IN_J: P[] = [[0,0.05],[0.6,0.05],[0.65,0.25],[1.4,0.25],[1.45,0.1],[2.2,0.1],[2.25,0.3],[3.0,0.3],[3.05,0.12],[3.8,0.12],[3.85,0.35],[4.5,0.35],[4.55,0.15],[5.3,0.15],[5.35,0.4],[6.0,0.4],[6.05,0.2],[6.8,0.2],[6.85,0.45],[7.5,0.45],[7.55,0.25],[8.3,0.25],[8.35,0.1],[9.1,0.1],[9.15,0.3],[9.9,0.3],[9.95,0.15],[10.7,0.15],[10.75,0.35],[11.4,0.35],[11.45,0.15],[12.2,0.15],[12.25,0.35],[13.0,0.35],[13.05,0.15],[13.8,0.15],[13.85,0.4],[14.5,0.4],[14.55,0.2],[15.3,0.2],[15.35,0.4],[16.0,0.4],[16.05,0.2],[16.8,0.2],[16.85,0.45],[17.5,0.45],[17.55,0.25],[18.3,0.25],[18.35,0.1],[19.1,0.1],[19.15,0.35],[19.8,0.35],[19.85,0.15],[20.6,0.15],[20.65,0.4],[21.3,0.4],[21.35,0.2],[22.1,0.2],[22.15,0.4],[22.8,0.4],[22.85,0.2],[23.6,0.2],[23.65,0.45],[24.3,0.45],[24.35,0.2],[25,0.2]];

const OUT_TRACES = [OUT_A, OUT_B, OUT_C, OUT_D, OUT_E, OUT_F, OUT_G, OUT_H, OUT_I, OUT_J];
const IN_TRACES = [IN_A, IN_B, IN_C, IN_D, IN_E, IN_F, IN_G, IN_H, IN_I, IN_J];

const FONT = "'Liberation Sans', Arial, Helvetica, sans-serif";
const AXIS_COLOR = "#4a4a4a";
const TEXT_COLOR = "#262626";
const DASH_STYLE = { color: "#111111", width: 1.6, type: [10, 5] as number[] };
const DOT_STYLE = { color: "#6a6a6a", width: 1.5, type: [1.5, 2.5] as number[] };
const OUT_MEAN_STYLE = { color: "#000000", width: 6.5, type: "solid" as const };
const IN_MEAN_STYLE = { color: "#848484", width: 6.5, type: "solid" as const };

function buildOption() {
  const series: any[] = [];
  IN_TRACES.forEach((d, i) => {
    series.push({
      type: "line", name: "in" + i, data: d, showSymbol: false, symbol: "none",
      silent: true, lineStyle: { ...DOT_STYLE, cap: "butt" }, z: 2,
    });
  });
  OUT_TRACES.forEach((d, i) => {
    series.push({
      type: "line", name: "out" + i, data: d, showSymbol: false, symbol: "none",
      silent: true, lineStyle: { ...DASH_STYLE, cap: "butt" }, z: 2,
    });
  });
  series.push({
    type: "line", name: "outMean", data: OUT_MEAN, showSymbol: false, symbol: "none",
    silent: true, lineStyle: { ...OUT_MEAN_STYLE, join: "round", cap: "round" }, z: 4,
  });
  series.push({
    type: "line", name: "inMean", data: IN_MEAN, showSymbol: false, symbol: "none",
    silent: true, lineStyle: { ...IN_MEAN_STYLE, join: "round", cap: "round" }, z: 5,
  });

  const lx = 428, ly = 50, lw = 368, lh = 113;
  const rowY = [64, 92, 120, 148];
  const rowStyles = [
    { stroke: DASH_STYLE.color, lineWidth: 1.6, lineDash: [10, 5] },
    { stroke: DOT_STYLE.color, lineWidth: 1.3, lineDash: [1.4, 2.4] },
    { stroke: OUT_MEAN_STYLE.color, lineWidth: 6 },
    { stroke: IN_MEAN_STYLE.color, lineWidth: 6 },
  ];
  const legendChildren: any[] = [
    { type: "rect", shape: { x: lx, y: ly, width: lw, height: lh }, style: { fill: "#ffffff", stroke: "#333333", lineWidth: 1.2 }, z: 100 },
  ];
  LEGEND_LABELS.forEach((label, i) => {
    legendChildren.push({
      type: "line", shape: { x1: 431, y1: rowY[i], x2: 485, y2: rowY[i] },
      style: { ...rowStyles[i], lineCap: "butt" }, z: 101,
    });
    legendChildren.push({
      type: "text", x: 492, y: rowY[i],
      style: { text: label, fill: "#000000", font: `bold 21px ${FONT}`, align: "left", verticalAlign: "middle" },
      z: 101,
    });
  });

  const baseX = {
    type: "value", min: X_MIN, max: X_MAX, interval: X_STEP,
    axisLine: { show: true, onZero: false, lineStyle: { color: AXIS_COLOR, width: 1.3 } },
    axisTick: { show: true, inside: true, length: 10, lineStyle: { color: AXIS_COLOR, width: 1.3 } },
    splitLine: { show: false },
  };
  const baseY = {
    type: "value", min: Y_MIN, max: Y_MAX, interval: Y_STEP,
    axisLine: { show: true, onZero: false, lineStyle: { color: AXIS_COLOR, width: 1.3 } },
    axisTick: { show: true, inside: true, length: 10, lineStyle: { color: AXIS_COLOR, width: 1.3 } },
    splitLine: { show: false },
  };

  return {
    animation: false,
    backgroundColor: "#ffffff",
    grid: { left: 66, right: 22, top: 24, bottom: 74, containLabel: false },
    xAxis: [
      { ...baseX, position: "bottom",
        axisLabel: { show: true, margin: 11, color: TEXT_COLOR, fontSize: 22, fontWeight: "bold", fontFamily: FONT } },
      { ...baseX, position: "top", axisLabel: { show: false } },
    ],
    yAxis: [
      { ...baseY, position: "left",
        axisLabel: { show: true, margin: 10, color: TEXT_COLOR, fontSize: 22, fontWeight: "bold", fontFamily: FONT } },
      { ...baseY, position: "right", axisLabel: { show: false } },
    ],
    series,
    graphic: [
      { type: "text", x: 604, y: 655, style: { text: X_TITLE, fill: TEXT_COLOR, font: `bold 25px ${FONT}`, align: "center", verticalAlign: "middle" }, z: 50 },
      { type: "text", x: 24, y: 310, rotation: Math.PI / 2, style: { text: Y_TITLE, fill: TEXT_COLOR, font: `bold 26px ${FONT}`, align: "center", verticalAlign: "middle" }, z: 50 },
      { type: "group", children: legendChildren, z: 100 },
    ],
  };
}

export default function App() {
  const ref = useRef<HTMLDivElement>(null);
  useEffect(() => {
    if (!ref.current) return;
    const chart = echarts.init(ref.current, undefined, { renderer: "svg" });
    chart.setOption(buildOption() as any);
    return () => chart.dispose();
  }, []);
  return (
    <div
      ref={ref}
      style={{ position: "fixed", left: 0, top: 0, width: 1163, height: 671, background: "#fff" }}
    />
  );
}
